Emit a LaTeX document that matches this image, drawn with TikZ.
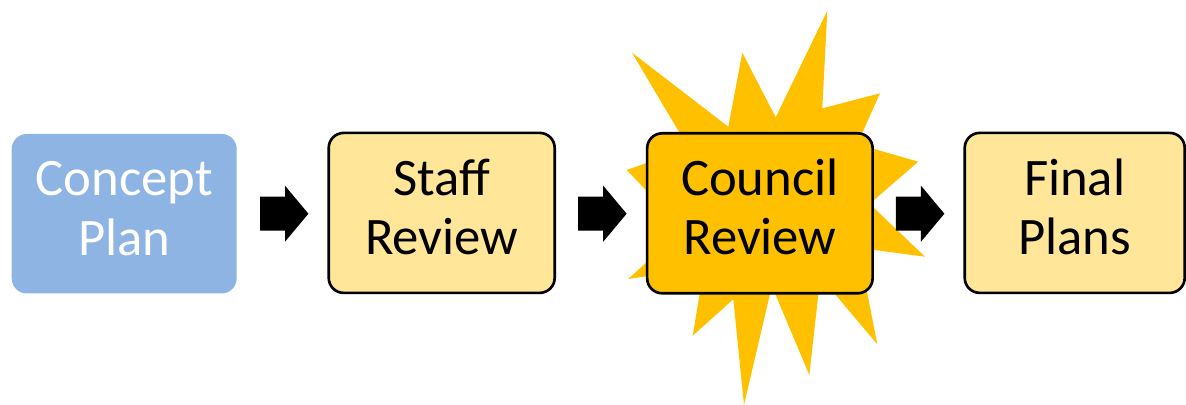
\documentclass[tikz,border=0pt]{standalone}
\usepackage{fontspec}
\setmainfont{Carlito}
\usetikzlibrary{calc}
\definecolor{conceptblue}{RGB}{142,180,227}
\definecolor{paleyellow}{RGB}{255,230,153}
\definecolor{burstgold}{RGB}{255,192,0}
\begin{document}
\begin{tikzpicture}[x=0.02cm,y=-0.02cm,
  stagebox/.style={rounded corners=0.3cm, minimum width=4.52cm, minimum height=3.2cm,
    inner sep=0pt, font=\fontsize{30}{33.6}\selectfont, line width=1.5pt, draw=black},
  blockarrow/.style={fill=black},
  burst/.style={fill=burstgold}]
\useasboundingbox (0,0) rectangle (1186,405);
% starburst behind the council box
\fill[burst] (632,52.7) -- (728.3,126.7) -- (742.3,52.7) -- (775.7,117.3) -- (827.3,10.7)
  -- (822.3,108.3) -- (880,93.3) -- (859.1,140) -- (866,146.7) -- (918.3,161.7)
  -- (866,206.9) -- (866,200.4) -- (925,256.7) -- (866,248.9) -- (866.1,287)
  -- (877.3,344.3) -- (829,287) -- (819.2,287) -- (809.3,375) -- (772.3,287)
  -- (771.6,287) -- (744,405) -- (733.3,299.3) -- (692.7,335.7) -- (700.8,287)
  -- (654,275.1) -- (628.3,279) -- (654,255.3) -- (654,198.7) -- (626.7,170)
  -- (654,160.4) -- (683.8,140) -- cycle;
% stages
\node[stagebox, draw=none, fill=conceptblue, text=white, minimum width=4.5cm, minimum height=3.19cm]
  (concept) at (124.2,213.7) {\begin{tabular}{@{}c@{}}Concept\\Plan\end{tabular}};
\node[stagebox, fill=paleyellow] (staff) at (441.7,212.9)
  {\begin{tabular}{@{}c@{}}Staff\\Review\end{tabular}};
\node[stagebox, fill=burstgold, minimum width=4.51cm] (council) at (759.9,213.3)
  {\begin{tabular}{@{}c@{}}Council\\Review\end{tabular}};
\node[stagebox, fill=paleyellow, minimum width=4.4cm] (final) at (1074.7,212.9)
  {\begin{tabular}{@{}c@{}}Final\\Plans\end{tabular}};
% block arrows between stages
\coordinate (m1) at ($(concept.east)!0.5!(staff.west)+(1.5,0.4)$);
\coordinate (m2) at ($(staff.east)!0.5!(council.west)+(1.5,0.6)$);
\coordinate (m3) at ($(council.east)!0.5!(final.west)+(1.5,0.6)$);
\foreach \m in {m1,m2,m3}{
  \fill[blockarrow, shift={(\m)}] (-24.2,-17) -- (0.8,-17) -- (0.8,-28) -- (24.2,0)
    -- (0.8,28) -- (0.8,17) -- (-24.2,17) -- cycle;
}
\end{tikzpicture}
\end{document}
